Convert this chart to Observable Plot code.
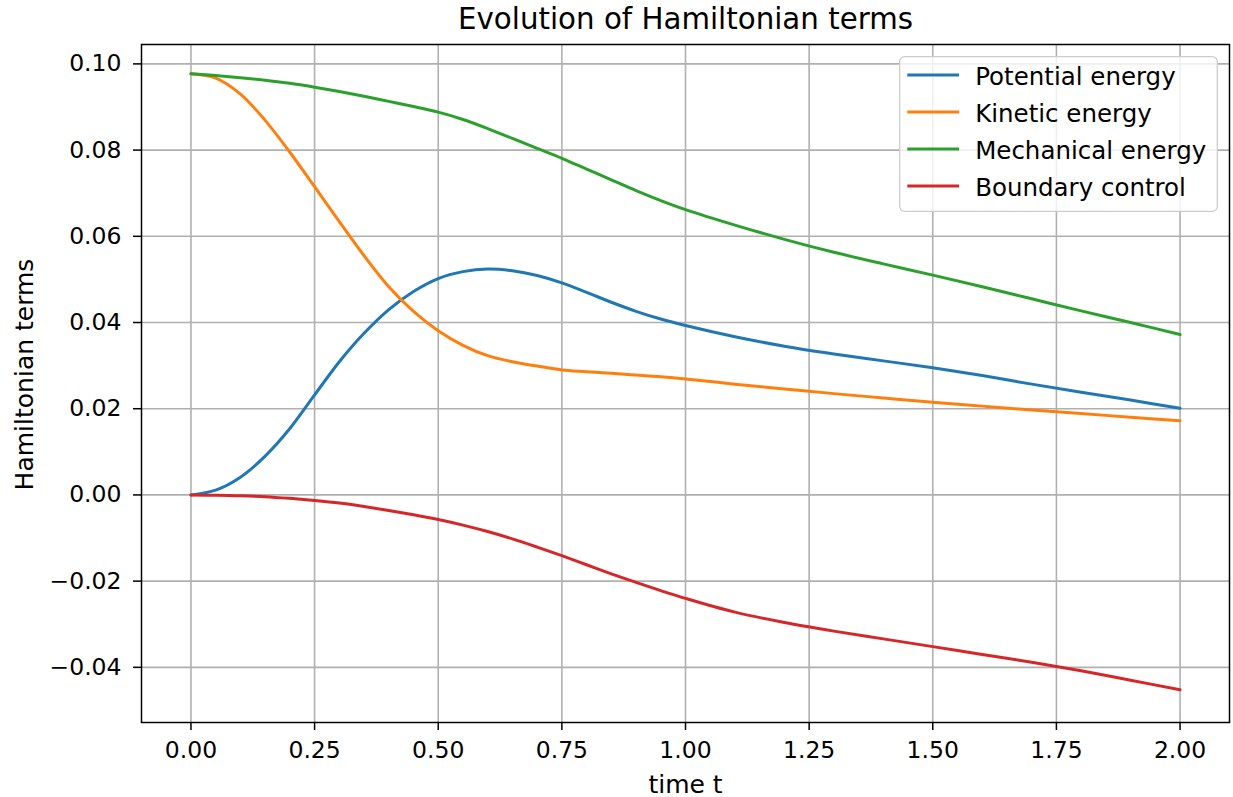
<!DOCTYPE html>
<html>
<head>
<meta charset="utf-8">
<script src="https://cdn.jsdelivr.net/npm/d3@7"></script>
<script src="https://cdn.jsdelivr.net/npm/@observablehq/plot@0.6"></script>
<style>
  html, body { margin: 0; padding: 0; background: white; }
  #wrap { position: relative; width: 1233px; height: 797px; font-family: "DejaVu Sans", sans-serif; }
  #legend { position: absolute; left: 899px; top: 56px; }
</style>
</head>
<body>
<div id="wrap"><div id="legend"></div></div>
<script>
const titleText = "Evolution of Hamiltonian terms";
const xLabel = "time t";
const yLabel = "Hamiltonian terms";

const seriesNames = ["Potential energy", "Kinetic energy", "Mechanical energy", "Boundary control"];
const seriesColors = ["#1f77b4", "#ff7f0e", "#2ca02c", "#d62728"];

const xTicks = [0, 0.25, 0.5, 0.75, 1.0, 1.25, 1.5, 1.75, 2.0];
const yTicks = [-0.04, -0.02, 0, 0.02, 0.04, 0.06, 0.08, 0.10];

const t = [0, 0.05, 0.1, 0.15, 0.2, 0.25, 0.3, 0.35, 0.4, 0.45, 0.5, 0.55, 0.6, 0.65, 0.7, 0.75, 0.8, 0.85, 0.9, 0.95, 1.0, 1.1, 1.2, 1.3, 1.4, 1.5, 1.6, 1.7, 1.8, 1.9, 2.0];

const potential = [0, 0.0011, 0.0041, 0.0090, 0.0154, 0.0232, 0.0309, 0.0375, 0.0430, 0.0472, 0.0502, 0.0518, 0.0524, 0.0520, 0.0509, 0.0492, 0.0470, 0.0447, 0.0426, 0.0408, 0.0393, 0.0367, 0.0345, 0.0327, 0.0311, 0.0295, 0.0277, 0.0257, 0.0238, 0.0220, 0.0201];

const kinetic = [0.0977, 0.0967, 0.0930, 0.0869, 0.0795, 0.0715, 0.0634, 0.0555, 0.0483, 0.0426, 0.0381, 0.0347, 0.0323, 0.0309, 0.0299, 0.0290, 0.0286, 0.0282, 0.0278, 0.0274, 0.0269, 0.0257, 0.0246, 0.0235, 0.0225, 0.0215, 0.0206, 0.0197, 0.0189, 0.0180, 0.0172];

const mechanical = [0.0977, 0.0973, 0.0968, 0.0962, 0.0955, 0.0946, 0.0936, 0.0925, 0.0913, 0.0901, 0.0888, 0.0871, 0.0850, 0.0827, 0.0804, 0.0781, 0.0756, 0.0731, 0.0706, 0.0683, 0.0662, 0.0626, 0.0593, 0.0563, 0.0536, 0.0510, 0.0483, 0.0455, 0.0427, 0.0400, 0.0372];

const boundary = [0, -0.0001, -0.0002, -0.0004, -0.0008, -0.0013, -0.0019, -0.0027, -0.0036, -0.0046, -0.0057, -0.0070, -0.0085, -0.0102, -0.0121, -0.0141, -0.0162, -0.0183, -0.0203, -0.0222, -0.0240, -0.0272, -0.0296, -0.0316, -0.0334, -0.0352, -0.0370, -0.0388, -0.0408, -0.0430, -0.0452];

const seriesValues = [potential, kinetic, mechanical, boundary];

const rows = [];
seriesNames.forEach((name, s) => {
  t.forEach((tv, i) => rows.push({series: name, t: tv, value: seriesValues[s][i]}));
});

const fmt = d3.format(".2f");

const chart = Plot.plot({
  width: 1233,
  height: 797,
  marginLeft: 141,
  marginRight: 4,
  marginTop: 44,
  marginBottom: 75,
  style: {fontFamily: "DejaVu Sans, sans-serif", fontSize: "23.5px", color: "black", background: "white", overflow: "visible"},
  x: {domain: [-0.1, 2.1]},
  y: {domain: [-0.0528, 0.1045]},
  color: {domain: seriesNames, range: seriesColors},
  marks: [
    Plot.gridX(xTicks, {stroke: "#b0b0b0", strokeOpacity: 1, strokeWidth: 1.6}),
    Plot.gridY(yTicks, {stroke: "#b0b0b0", strokeOpacity: 1, strokeWidth: 1.6}),
    Plot.line(rows, {x: "t", y: "value", z: "series", stroke: "series", strokeWidth: 3, curve: "catmull-rom"}),
    Plot.axisX(xTicks, {tickFormat: fmt, tickSize: 8, tickPadding: 11, strokeWidth: 1.5, label: null, fill: "black"}),
    Plot.axisY(yTicks, {tickFormat: fmt, tickSize: 8, tickPadding: 12, strokeWidth: 1.5, label: null, fill: "black"}),
    Plot.frame({stroke: "black", strokeWidth: 1.5}),
    Plot.text([xLabel], {text: d => d, frameAnchor: "bottom", lineAnchor: "bottom", dy: 70, fontSize: 25, fill: "black"}),
    Plot.text([yLabel], {text: d => d, frameAnchor: "left", textAnchor: "middle", lineAnchor: "top", rotate: -90, dx: -126.5, dy: -9, fontSize: 25, fill: "black"}),
    Plot.text([titleText], {text: d => d, frameAnchor: "top", lineAnchor: "bottom", dy: -16, fontSize: 29.3, fill: "black"})
  ]
});

const wrap = document.getElementById("wrap");
wrap.insertBefore(chart, wrap.firstChild);

// Legend built from the series arrays
const lw = 319, lh = 156;
const lsvg = d3.select("#legend").append("svg")
  .attr("width", lw).attr("height", lh)
  .style("font-family", "DejaVu Sans, sans-serif")
  .style("display", "block");
lsvg.append("rect")
  .attr("x", 0.65).attr("y", 0.65)
  .attr("width", lw - 1.3).attr("height", lh - 1.3)
  .attr("rx", 5).attr("ry", 5)
  .attr("fill", "white").attr("fill-opacity", 0.8)
  .attr("stroke", "#cccccc").attr("stroke-width", 1.3);
const entries = lsvg.selectAll("g.entry").data(seriesNames).join("g")
  .attr("class", "entry")
  .attr("transform", (d, i) => `translate(0,${19 + i * 37})`);
entries.append("line")
  .attr("x1", 8.3).attr("x2", 60).attr("y1", 0).attr("y2", 0)
  .attr("stroke", (d, i) => seriesColors[i]).attr("stroke-width", 3);
entries.append("text")
  .attr("x", 76.2).attr("y", 10)
  .attr("font-size", 24.5)
  .attr("fill", "black")
  .text(d => d);
</script>
</body>
</html>
